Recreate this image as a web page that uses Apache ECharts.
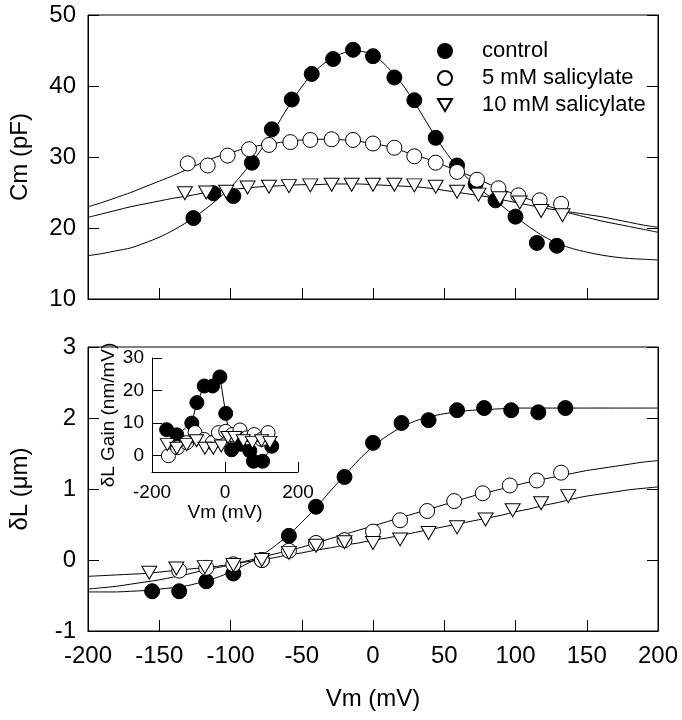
<!DOCTYPE html>
<html>
<head>
<meta charset="utf-8">
<script src="https://cdn.jsdelivr.net/npm/echarts@6/dist/echarts.min.js"></script>
<style>
html,body{margin:0;padding:0;background:#fff;}
#chart{width:682px;height:720px;}
</style>
</head>
<body>
<div id="chart"></div>
<script>
// ---------- Data ----------
// Top panel: Cm (pF) vs Vm (mV)
const ctlCmV = [-126, -112, -98, -85, -71, -57, -43, -28, -14, 0, 15, 29, 44, 59, 72, 86, 100, 115, 129];
const ctlCm  = [21.4, 24.9, 24.5, 29.2, 33.9, 38.1, 41.7, 43.8, 45.1, 44.2, 41.2, 38.0, 32.7, 28.8, 26.2, 23.9, 21.6, 17.9, 17.5];
const s5CmV  = [-130, -116, -102, -87, -73, -58, -44, -29, -14, 0, 15, 29, 44, 59, 73, 88, 102, 117, 132];
const s5Cm   = [29.1, 28.8, 30.2, 31.1, 31.7, 32.1, 32.4, 32.5, 32.4, 31.9, 31.3, 30.1, 29.2, 27.9, 26.8, 25.6, 24.6, 23.9, 23.4];
const s10CmV = [-132, -117, -103, -88, -73, -59, -44, -29, -15, 0, 15, 29, 44, 59, 74, 89, 103, 118, 133];
const s10Cm  = [24.9, 25.0, 25.1, 25.7, 25.8, 25.9, 26.0, 26.1, 26.1, 26.1, 26.1, 26.0, 25.8, 25.1, 24.7, 24.2, 23.6, 22.4, 21.8];

// Fitted curves, every 10 mV
const fitV = [-200, -190, -180, -170, -160, -150, -140, -130, -120, -110, -100, -90, -80, -70, -60, -50, -40, -30, -20, -10,
              0, 10, 20, 30, 40, 50, 60, 70, 80, 90, 100, 110, 120, 130, 140, 150, 160, 170, 180, 190, 200];
const ctlCmFit = [16.1, 16.4, 16.8, 17.2, 17.9, 18.7, 19.7, 20.9, 22.3, 23.9, 25.7, 28.0, 30.6, 33.6, 36.9, 39.9, 42.2, 43.8, 44.7, 44.9,
                  44.4, 42.7, 40.4, 37.4, 34.1, 31.0, 28.4, 26.3, 24.7, 23.2, 21.6, 20.1, 18.8, 17.8, 17.1, 16.6, 16.2, 15.9, 15.7, 15.6, 15.5];
const s5CmFit  = [23.0, 23.6, 24.3, 25.0, 25.8, 26.6, 27.4, 28.3, 29.2, 30.0, 30.6, 31.2, 31.6, 31.9, 32.2, 32.4, 32.5, 32.5, 32.4, 32.2,
                  31.9, 31.5, 30.9, 30.2, 29.6, 28.8, 28.0, 27.2, 26.3, 25.5, 24.7, 24.0, 23.3, 22.6, 22.0, 21.5, 21.0, 20.6, 20.2, 19.8, 19.4];
const s10CmFit = [21.5, 22.0, 22.5, 23.0, 23.4, 23.8, 24.2, 24.5, 24.9, 25.2, 25.4, 25.6, 25.8, 25.9, 26.0, 26.1, 26.1, 26.2, 26.2, 26.2,
                  26.1, 26.0, 25.9, 25.8, 25.6, 25.3, 25.0, 24.7, 24.4, 24.0, 23.6, 23.2, 22.8, 22.5, 22.2, 21.9, 21.6, 21.2, 20.8, 20.4, 20.1];

// Bottom panel: deltaL (um) vs Vm (mV)
const ctlDLV = [-155, -136, -117, -98, -78, -59, -40, -20, 0, 20, 39, 59, 78, 97, 116, 135];
const ctlDL  = [-0.44, -0.44, -0.30, -0.19, 0.0, 0.34, 0.75, 1.17, 1.65, 1.93, 1.97, 2.11, 2.14, 2.11, 2.08, 2.14];
const s5DLV  = [-136, -117, -98, -78, -59, -40, -20, 0, 19, 38, 57, 77, 96, 115, 132];
const s5DL   = [-0.15, -0.11, -0.06, 0.0, 0.13, 0.24, 0.28, 0.40, 0.56, 0.69, 0.83, 0.94, 1.05, 1.12, 1.23];
const s10DLV = [-157, -138, -118, -98, -78, -59, -40, -20, 0, 19, 39, 59, 79, 98, 118, 137];
const s10DL  = [-0.18, -0.12, -0.10, -0.07, 0.0, 0.10, 0.20, 0.25, 0.24, 0.29, 0.38, 0.46, 0.57, 0.70, 0.80, 0.90];

const ctlDLFit = [-0.45, -0.45, -0.45, -0.44, -0.43, -0.41, -0.39, -0.36, -0.31, -0.25, -0.17, -0.07, 0.04, 0.18, 0.34, 0.53, 0.74, 0.97, 1.19, 1.41,
                  1.60, 1.75, 1.87, 1.96, 2.02, 2.06, 2.09, 2.11, 2.12, 2.13, 2.14, 2.14, 2.14, 2.14, 2.14, 2.14, 2.14, 2.14, 2.14, 2.14, 2.14];
const s5DLFit  = [-0.41, -0.39, -0.37, -0.34, -0.31, -0.28, -0.24, -0.20, -0.15, -0.11, -0.07, -0.02, 0.03, 0.08, 0.13, 0.18, 0.24, 0.30, 0.36, 0.42,
                  0.48, 0.54, 0.60, 0.66, 0.72, 0.78, 0.84, 0.90, 0.95, 1.00, 1.05, 1.10, 1.14, 1.18, 1.22, 1.26, 1.29, 1.32, 1.35, 1.38, 1.40];
const s10DLFit = [-0.23, -0.22, -0.21, -0.20, -0.19, -0.17, -0.15, -0.13, -0.11, -0.09, -0.06, -0.03, 0.0, 0.03, 0.07, 0.10, 0.14, 0.17, 0.21, 0.24,
                  0.28, 0.31, 0.35, 0.39, 0.43, 0.47, 0.51, 0.55, 0.59, 0.63, 0.68, 0.72, 0.77, 0.81, 0.86, 0.90, 0.93, 0.96, 0.99, 1.01, 1.03];

// Inset: deltaL gain (nm/mV) vs Vm (mV)
const ctlGainV = [-160, -132, -91, -77, -57, -34, -14, 2, 18, 43, 68, 78, 103, 128];
const ctlGain  = [8.0, 6.4, 10.0, 16.3, 21.4, 21.4, 24.2, 13.0, 1.8, 3.5, 1.5, -1.7, -1.7, 2.9];
const s5GainV  = [-155, -130, -105, -82, -57, -35, -18, 2, 20, 41, 60, 80, 100, 118];
const s5Gain   = [0.0, 2.5, 4.0, 7.1, 5.0, 4.0, 7.1, 7.5, 6.5, 7.9, 5.5, 6.5, 5.0, 7.1];
const s10GainV = [-158, -132, -105, -78, -55, -32, -10, 8, 27, 50, 75, 100, 123];
const s10Gain  = [3.4, 2.3, 3.4, 4.6, 2.3, 2.3, 3.0, 5.6, 5.6, 4.6, 4.1, 4.6, 4.1];

// Axis ticks / labels
const xTicks = [-200, 200, 50];      // min, max, interval
const cmTicks = [10, 50, 10];
const dlTicks = [-1, 3, 1];
const insetXTicks = [-200, 200, 200];
const insetYRange = [-5, 30];
const insetYTickValues = [0, 10, 20, 30];
const seriesNames = ['control', '5 mM salicylate', '10 mM salicylate'];

// ---------- Build ----------
const pairs = (xs, ys) => xs.map((x, i) => [x, ys[i]]);
const FONT = '"Liberation Sans", Arial, Helvetica, sans-serif';
const BLACK = '#000';

function valueAxisBase(extra) {
  return Object.assign({
    type: 'value',
    axisLine: { show: true, onZero: false, lineStyle: { color: BLACK, width: 1 } },
    axisTick: { show: true, inside: true, length: 11, lineStyle: { color: BLACK, width: 1 } },
    axisLabel: { color: BLACK, fontFamily: FONT, fontSize: 24 },
    splitLine: { show: false }
  }, extra);
}

const chart = echarts.init(document.getElementById('chart'), null, { renderer: 'canvas' });

const filledStyle = { color: BLACK, borderColor: BLACK, borderWidth: 1, opacity: 1 };
const openStyle = { color: '#fff', borderColor: BLACK, borderWidth: 1, opacity: 1 };
const triStyle = { color: '#fff', borderColor: BLACK, borderWidth: 1, opacity: 1 };
const TRI_DOWN = 'path://M0,0L14,0L7,12Z';

function fitLine(name, xi, yi, xs, ys) {
  return {
    name: name, type: 'line', xAxisIndex: xi, yAxisIndex: yi,
    data: pairs(xs, ys), showSymbol: false, smooth: 0.3,
    lineStyle: { color: BLACK, width: 1 }, z: 1, silent: true
  };
}
function scat(name, xi, yi, xs, ys, kind, z) {
  const s = {
    name: name, type: 'scatter', xAxisIndex: xi, yAxisIndex: yi,
    data: pairs(xs, ys), z: z
  };
  if (kind === 'filled') { s.symbol = 'circle'; s.symbolSize = 15; s.itemStyle = filledStyle; }
  if (kind === 'open') { s.symbol = 'circle'; s.symbolSize = 15; s.itemStyle = openStyle; }
  if (kind === 'tri') { s.symbol = 'triangle'; s.symbolSize = [15, 13]; s.symbolRotate = 180; s.itemStyle = triStyle; }
  return s;
}
function insetLine(name, xs, ys, kind, z) {
  const s = {
    name: name, type: 'line', xAxisIndex: 2, yAxisIndex: 4,
    data: pairs(xs, ys), showSymbol: true, lineStyle: { color: BLACK, width: 1 }, z: z
  };
  if (kind === 'filled') { s.symbol = 'circle'; s.symbolSize = 14; s.itemStyle = filledStyle; }
  if (kind === 'open') { s.symbol = 'circle'; s.symbolSize = 14; s.itemStyle = openStyle; }
  if (kind === 'tri') { s.symbol = 'triangle'; s.symbolSize = [14, 12]; s.symbolRotate = 180; s.itemStyle = triStyle; }
  return s;
}

const option = {
  backgroundColor: '#fff',
  animation: false,
  textStyle: { fontFamily: FONT, color: BLACK },
  grid: [
    { left: 87, top: 15, width: 571, height: 284, show: true, borderColor: BLACK, borderWidth: 1, backgroundColor: 'transparent' },
    { left: 87, top: 347, width: 571, height: 284, show: true, borderColor: BLACK, borderWidth: 1, backgroundColor: 'transparent' },
    { left: 152, top: 358, width: 146, height: 114, show: false }
  ],
  legend: {
    data: [
      { name: seriesNames[0], icon: 'circle' },
      { name: seriesNames[1], icon: 'circle' },
      { name: seriesNames[2], icon: TRI_DOWN }
    ],
    orient: 'vertical',
    left: 432, top: 35,
    itemWidth: 14, itemHeight: 14, itemGap: 5,
    textStyle: { fontFamily: FONT, fontSize: 22, color: BLACK, padding: [0, 0, 0, 25] },
    selectedMode: false
  },
  xAxis: [
    valueAxisBase({ gridIndex: 0, min: xTicks[0], max: xTicks[1], interval: xTicks[2], axisLabel: { show: false } }),
    valueAxisBase({ gridIndex: 1, min: xTicks[0], max: xTicks[1], interval: xTicks[2],
      axisLabel: { color: BLACK, fontFamily: FONT, fontSize: 24, margin: 13 },
      name: 'Vm (mV)', nameLocation: 'middle', nameGap: 56,
      nameTextStyle: { fontFamily: FONT, fontSize: 24, color: BLACK } }),
    valueAxisBase({ gridIndex: 2, min: insetXTicks[0], max: insetXTicks[1], interval: insetXTicks[2],
      axisTick: { show: true, inside: true, length: 10, lineStyle: { color: BLACK } },
      axisLabel: { color: BLACK, fontFamily: FONT, fontSize: 19, margin: 11 },
      name: 'Vm (mV)', nameLocation: 'middle', nameGap: 30,
      nameTextStyle: { fontFamily: FONT, fontSize: 19, color: BLACK } })
  ],
  yAxis: [
    valueAxisBase({ gridIndex: 0, min: cmTicks[0], max: cmTicks[1], interval: cmTicks[2],
      axisLabel: { color: BLACK, fontFamily: FONT, fontSize: 24, margin: 12 },
      name: 'Cm (pF)', nameLocation: 'middle', nameGap: 56,
      nameTextStyle: { fontFamily: FONT, fontSize: 24, color: BLACK } }),
    valueAxisBase({ gridIndex: 0, position: 'right', min: cmTicks[0], max: cmTicks[1], interval: cmTicks[2],
      axisLabel: { show: false } }),
    valueAxisBase({ gridIndex: 1, min: dlTicks[0], max: dlTicks[1], interval: dlTicks[2],
      axisLabel: { color: BLACK, fontFamily: FONT, fontSize: 24, margin: 12 },
      name: 'δL (μm)', nameLocation: 'middle', nameGap: 56,
      nameTextStyle: { fontFamily: FONT, fontSize: 24, color: BLACK } }),
    valueAxisBase({ gridIndex: 1, position: 'right', min: dlTicks[0], max: dlTicks[1], interval: dlTicks[2],
      axisLabel: { show: false } }),
    valueAxisBase({ gridIndex: 2, min: insetYRange[0], max: insetYRange[1],
      axisTick: { show: true, inside: true, length: 10, lineStyle: { color: BLACK }, customValues: insetYTickValues },
      axisLabel: { color: BLACK, fontFamily: FONT, fontSize: 19, margin: 8, customValues: insetYTickValues },
      name: 'δL Gain (nm/mV)', nameLocation: 'middle', nameGap: 34,
      nameTextStyle: { fontFamily: FONT, fontSize: 19, color: BLACK } })
  ],
  series: [
    fitLine('ctlCmFit', 0, 0, fitV, ctlCmFit),
    fitLine('s5CmFit', 0, 0, fitV, s5CmFit),
    fitLine('s10CmFit', 0, 0, fitV, s10CmFit),
    scat(seriesNames[0], 0, 0, ctlCmV, ctlCm, 'filled', 2),
    scat(seriesNames[1], 0, 0, s5CmV, s5Cm, 'open', 3),
    scat(seriesNames[2], 0, 0, s10CmV, s10Cm, 'tri', 4),

    fitLine('ctlDLFit', 1, 2, fitV, ctlDLFit),
    fitLine('s5DLFit', 1, 2, fitV, s5DLFit),
    fitLine('s10DLFit', 1, 2, fitV, s10DLFit),
    scat('ctlDL', 1, 2, ctlDLV, ctlDL, 'filled', 2),
    scat('s5DL', 1, 2, s5DLV, s5DL, 'open', 3),
    scat('s10DL', 1, 2, s10DLV, s10DL, 'tri', 4),

    insetLine('ctlGain', ctlGainV, ctlGain, 'filled', 5),
    insetLine('s5Gain', s5GainV, s5Gain, 'open', 6),
    insetLine('s10Gain', s10GainV, s10Gain, 'tri', 7)
  ]
};
chart.setOption(option);
</script>
</body>
</html>
